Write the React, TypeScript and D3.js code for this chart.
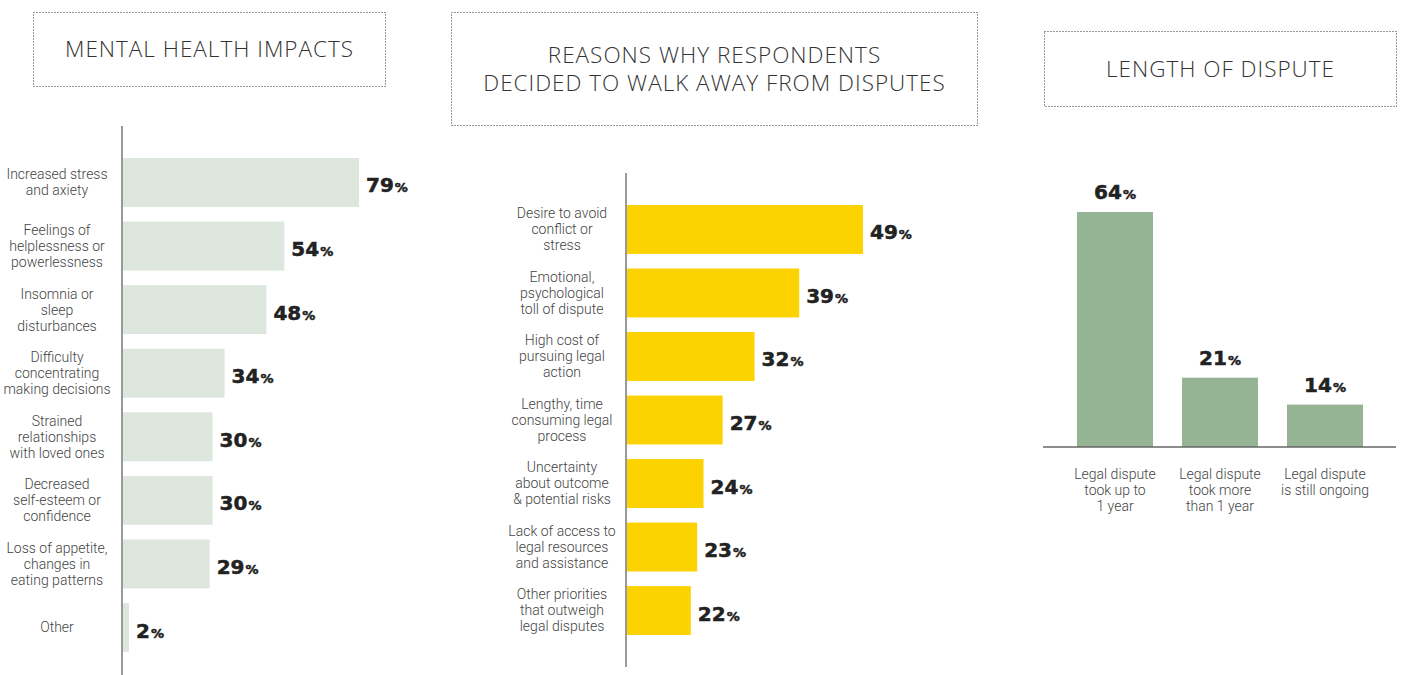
import React from "react";
import * as d3 from "d3";

const mentalCategories = [
  ["Increased stress", "and axiety"],
  ["Feelings of", "helplessness or", "powerlessness"],
  ["Insomnia or", "sleep", "disturbances"],
  ["Difficulty", "concentrating", "making decisions"],
  ["Strained", "relationships", "with loved ones"],
  ["Decreased", "self-esteem or", "confidence"],
  ["Loss of appetite,", "changes in", "eating patterns"],
  ["Other"],
];
const mentalValues = [79, 54, 48, 34, 30, 30, 29, 2];

const reasonCategories = [
  ["Desire to avoid", "conflict or", "stress"],
  ["Emotional,", "psychological", "toll of dispute"],
  ["High cost of", "pursuing legal", "action"],
  ["Lengthy, time", "consuming legal", "process"],
  ["Uncertainty", "about outcome", "& potential risks"],
  ["Lack of access to", "legal resources", "and assistance"],
  ["Other priorities", "that outweigh", "legal disputes"],
];
const reasonValues = [49, 39, 32, 27, 24, 23, 22];

const lengthCategories = [
  ["Legal dispute", "took up to", "1 year"],
  ["Legal dispute", "took more", "than 1 year"],
  ["Legal dispute", "is still ongoing"],
];
const lengthValues = [64, 21, 14];

const LABEL_FONT = "Roboto, 'Open Sans', sans-serif";
const VALUE_FONT = "'DejaVu Sans', Lato, sans-serif";
const TITLE_FONT = "'Open Sans', 'Noto Sans', sans-serif";

function ValueText({ x, y, v, anchor = "start" }: { x: number; y: number; v: number; anchor?: string }) {
  return (
    <text x={x} y={y} textAnchor={anchor} fontFamily={VALUE_FONT} fontWeight={700} fill="#222" fontSize={20} stroke="#222" strokeWidth={0.5}>
      {v}
      <tspan fontSize={13} dx={1}>%</tspan>
    </text>
  );
}

function Lines({ x, cy, lines, lh = 16 }: { x: number; cy: number; lines: string[]; lh?: number }) {
  const n = lines.length;
  return (
    <text x={x} textAnchor="middle" fontFamily={LABEL_FONT} fontWeight={300} fontSize={14} fill="#444">
      {lines.map((l, i) => (
        <tspan key={i} x={x} y={cy + (i - (n - 1) / 2) * lh} dy="0.35em">
          {l}
        </tspan>
      ))}
    </text>
  );
}

function TitleBox({ x, y, w, h, lines }: { x: number; y: number; w: number; h: number; lines: string[] }) {
  const n = lines.length;
  const cy = y + h / 2;
  return (
    <g>
      <rect x={x} y={y} width={w} height={h} fill="none" stroke="#333" strokeWidth={1} strokeDasharray="1,2" />
      <text textAnchor="middle" fontFamily={TITLE_FONT} fontWeight={300} fontSize={22.5} fill="#333" letterSpacing={1}>
        {lines.map((l, i) => (
          <tspan key={i} x={x + w / 2} y={cy + (i - (n - 1) / 2) * 28} dy="0.35em">
            {l}
          </tspan>
        ))}
      </text>
    </g>
  );
}

export default function App() {
  // Chart 1
  const y1 = d3.scaleBand<number>().domain(d3.range(mentalValues.length)).range([158, 652]).paddingInner(0.23).paddingOuter(0);
  const x1 = d3.scaleLinear().domain([0, 79]).range([123, 359]);
  // Chart 2
  const y2 = d3.scaleBand<number>().domain(d3.range(reasonValues.length)).range([205, 635]).paddingInner(0.23).paddingOuter(0);
  const x2 = d3.scaleLinear().domain([12, 49]).range([627, 863]);
  // Chart 3
  const x3 = d3.scaleBand<number>().domain(d3.range(lengthValues.length)).range([1077, 1363]).paddingInner(0.276).paddingOuter(0);
  const y3 = d3.scaleLinear().domain([3, 64]).range([447, 212]);

  return (
    <svg width={1414} height={675} style={{ display: "block", position: "absolute", left: 0, top: 0, background: "#fff" }}>
      {/* Chart 1 */}
      <TitleBox x={33.5} y={12.5} w={352} h={74} lines={["MENTAL HEALTH IMPACTS"]} />
      {mentalValues.map((v, i) => (
        <g key={i}>
          <rect x={x1(0)} y={y1(i)} width={x1(v) - x1(0)} height={y1.bandwidth()} fill="#dde7dd" />
          <ValueText x={x1(v) + 7} y={y1(i)! + y1.bandwidth() / 2 + 10} v={v} />
          <Lines x={57} cy={y1(i)! + y1.bandwidth() / 2} lines={mentalCategories[i]} />
        </g>
      ))}
      <line x1={122} x2={122} y1={126} y2={675} stroke="#777" strokeWidth={1.5} />

      {/* Chart 2 */}
      <TitleBox x={451.5} y={12.5} w={526} h={113} lines={["REASONS WHY RESPONDENTS", "DECIDED TO WALK AWAY FROM DISPUTES"]} />
      {reasonValues.map((v, i) => (
        <g key={i}>
          <rect x={x2.range()[0]} y={y2(i)} width={x2(v) - x2.range()[0]} height={y2.bandwidth()} fill="#fcd200" />
          <ValueText x={x2(v) + 7} y={y2(i)! + y2.bandwidth() / 2 + 10} v={v} />
          <Lines x={562} cy={y2(i)! + y2.bandwidth() / 2} lines={reasonCategories[i]} />
        </g>
      ))}
      <line x1={626} x2={626} y1={173} y2={667} stroke="#777" strokeWidth={1.5} />

      {/* Chart 3 */}
      <TitleBox x={1044.5} y={31.5} w={352} h={75} lines={["LENGTH OF DISPUTE"]} />
      {lengthValues.map((v, i) => (
        <g key={i}>
          <rect x={x3(i)} y={y3(v)} width={x3.bandwidth()} height={y3.range()[0] - y3(v)} fill="#95b493" />
          <ValueText x={x3(i)! + x3.bandwidth() / 2} y={y3(v) - 13} v={v} anchor="middle" />
          <Lines x={x3(i)! + x3.bandwidth() / 2} cy={490 - (lengthCategories[i].length === 2 ? 8 : 0)} lines={lengthCategories[i]} />
        </g>
      ))}
      <line x1={1043} x2={1396} y1={447} y2={447} stroke="#666" strokeWidth={1.5} />
    </svg>
  );
}
